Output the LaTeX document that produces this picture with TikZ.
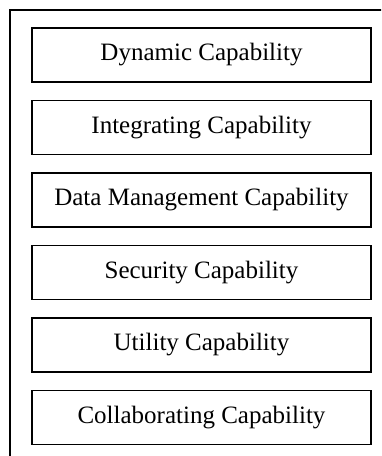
\documentclass[tikz,border=0pt]{standalone}
\usepackage{fontspec}
\setmainfont{Liberation Serif}
\usetikzlibrary{positioning}

\begin{document}
\begin{tikzpicture}[x=1pt,y=-1pt,
	capbox/.style={draw,line width=1.6pt,minimum width=339pt,minimum height=54pt,
		inner sep=0pt,font=\fontsize{25}{30}\selectfont}]

% Fix the page size and cut the outer frame at its edge
\useasboundingbox (0,0) rectangle (381,456);
\clip (0,0) rectangle (381,456);

% Outer frame (only its top and left sides fall on the page)
\draw[line width=1.6pt] (10,470) -- (10,10) -- (395,10);

% The stack of capabilities
\node[capbox] (dyn) at (201.5,55) {Dynamic Capability};
\node[capbox,below=16.9pt of dyn] (integ) {Integrating Capability};
\node[capbox,below=16.9pt of integ] (data) {Data Management Capability};
\node[capbox,below=16.9pt of data] (secur) {Security Capability};
\node[capbox,below=16.9pt of secur] (util) {Utility Capability};
\node[capbox,below=16.9pt of util] (collab) {Collaborating Capability};
\end{tikzpicture}
\end{document}
